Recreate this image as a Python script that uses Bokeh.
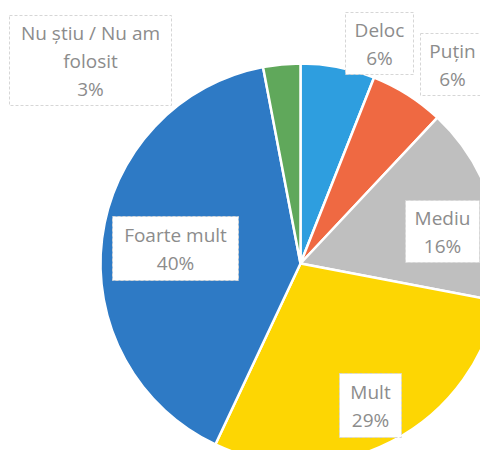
from math import pi
from bokeh.plotting import figure
from bokeh.models import ColumnDataSource, Range1d
from bokeh.core.properties import value
from bokeh.embed import file_html
from bokeh.resources import INLINE

# ---- data ----
categories = ["Deloc", "Puțin", "Mediu", "Mult", "Foarte mult", "Nu știu / Nu am folosit"]
percents = [6, 6, 16, 29, 40, 3]
colors = ["#2E9EDF", "#EF6942", "#BFBFBF", "#FDD603", "#2E7AC5", "#60A85B"]
label_lines = [["Deloc", "6%"], ["Puțin", "6%"], ["Mediu", "16%"], ["Mult", "29%"],
               ["Foarte mult", "40%"], ["Nu știu / Nu am", "folosit", "3%"]]

# ---- layout (picture pixel coords; y measured from top) ----
W, H = 480, 450
cx, cy, r = 300, 263, 200
label_centers = [(379, 43), (452, 64), (442, 231), (370, 405), (175, 248), (90, 60)]
label_boxes = [(68, 62), (64, 62), (74, 62), (62, 64), (126, 64), (162, 90)]
line_gap = 28

total = sum(percents)
starts, ends = [], []
acc = 0.0
for v in percents:
    starts.append(pi / 2 - 2 * pi * acc / total)
    acc += v
    ends.append(pi / 2 - 2 * pi * acc / total)

p = figure(width=W, height=H, output_backend="svg", toolbar_location=None,
           x_range=Range1d(0, W), y_range=Range1d(0, H),
           min_border=0, border_fill_color="white", outline_line_color=None)
p.axis.visible = False
p.grid.visible = False

src = ColumnDataSource(dict(cat=categories, val=percents, start=starts, end=ends, color=colors))
p.wedge(x=cx, y=H - cy, radius=r, start_angle="start", end_angle="end", direction="clock",
        fill_color="color", line_color="white", line_width=2.5, source=src)

# label boxes
bx = [c[0] for c in label_centers]
by = [H - c[1] for c in label_centers]
bw = [b[0] for b in label_boxes]
bh = [b[1] for b in label_boxes]
p.rect(x=bx, y=by, width=bw, height=bh, fill_color="white", line_color="#D6D6D6",
       line_width=1, line_dash="3 2")

tx, ty, tt = [], [], []
for (x, y), lines in zip(label_centers, label_lines):
    n = len(lines)
    for i, s in enumerate(lines):
        tx.append(x)
        ty.append(H - (y + (i - (n - 1) / 2) * line_gap))
        tt.append(s)
p.text(x=tx, y=ty, text=tt, text_align="center", text_baseline="middle",
       text_font=value("Open Sans"), text_font_size="19px", text_color="#8C8C8C")

open("out.html", "w").write(file_html(p, INLINE))
